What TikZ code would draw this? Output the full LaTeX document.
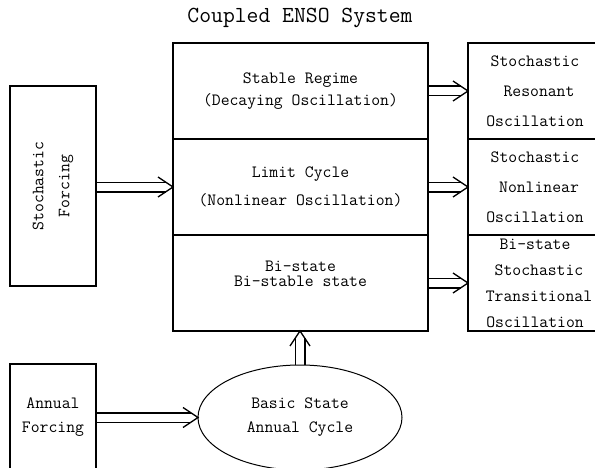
\documentclass[tikz,border=0pt]{standalone}
\usepackage{tikz}
\usetikzlibrary{calc, positioning, shapes.geometric}

% double shaft with open head
\newcommand{\dblarrow}[2]{%
  \draw[line width=1.5pt] ($(#1)!4.75pt!90:(#2)$) -- ($(#2)!7pt!(#1)!4.75pt!-90:(#1)$);
  \draw[line width=1.5pt] ($(#1)!4.75pt!-90:(#2)$) -- ($(#2)!7pt!(#1)!4.75pt!90:(#1)$);
  \draw[line width=1.3pt] ($(#2)!15pt!(#1)!10pt!90:(#1)$) -- (#2) -- ($(#2)!15pt!(#1)!10pt!-90:(#1)$);
}
% right boxes run off the page: pad each line to keep text centred
\newcommand{\rp}{\hspace*{8pt}}

\begin{document}
\begin{tikzpicture}[x=1pt, y=1pt,
  box/.style={draw, line width=1.5pt, inner sep=0pt, outer sep=0pt, align=center},
  regime/.style={box, minimum width=255pt, minimum height=96pt},
  outcome/.style={box, minimum width=142pt, minimum height=96pt},
  mono/.style={font=\ttfamily\fontsize{17.2}{#1}\selectfont}]

\useasboundingbox (0,0) rectangle (595,467);

% === Titel ===
\node[font=\ttfamily\fontsize{23}{26}\selectfont] (title) at (300,449) {Coupled ENSO System};

% === Gekoppeltes System ===
\node[regime, mono=22] (stable) at (300.5,376) {Stable Regime\\(Decaying Oscillation)};
\node[regime, mono=28, below=0pt of stable] (limit) {Limit Cycle\\(Nonlinear Oscillation)};
\node[regime, mono=15, text depth=18pt, below=0pt of limit] (bistate) {Bi-state\\Bi-stable state};

% === Stochastische Antworten ===
\node[outcome, mono=30, right=40pt of stable] (resonant) {Stochastic\rp\\Resonant\rp\\Oscillation\rp};
\node[outcome, mono=30, right=40pt of limit] (nonlinear) {Stochastic\rp\\Nonlinear\rp\\Oscillation\rp};
\node[outcome, mono=26, right=40pt of bistate] (transitional) {Bi-state\rp\\Stochastic\rp\\Transitional\rp\\Oscillation\rp};

% === Antriebe ===
\node[box, mono=26, rotate=90, minimum width=200pt, minimum height=86pt] (stoch) at (53,281) {Stochastic\\Forcing};
\node[box, mono=24, minimum width=86pt, minimum height=107pt] (annual) at (53,49.5) {Annual\\Forcing};
\node[draw, ellipse, line width=1pt, inner sep=0pt, outer sep=0pt, align=center, mono=24,
  minimum width=204pt, minimum height=105pt] (basic) at (300,49.5) {Basic State\\Annual Cycle};

% === Pfeile ===
\coordinate (stochout) at (stoch.south |- limit.west);
\coordinate (basictop) at (basic.north |- bistate.south);
\dblarrow{stochout}{limit.west}
\dblarrow{stable.east}{resonant.west}
\dblarrow{limit.east}{nonlinear.west}
\dblarrow{bistate.east}{transitional.west}
\dblarrow{annual.east}{basic.west}
\dblarrow{basic.north}{basictop}

\end{tikzpicture}
\end{document}
